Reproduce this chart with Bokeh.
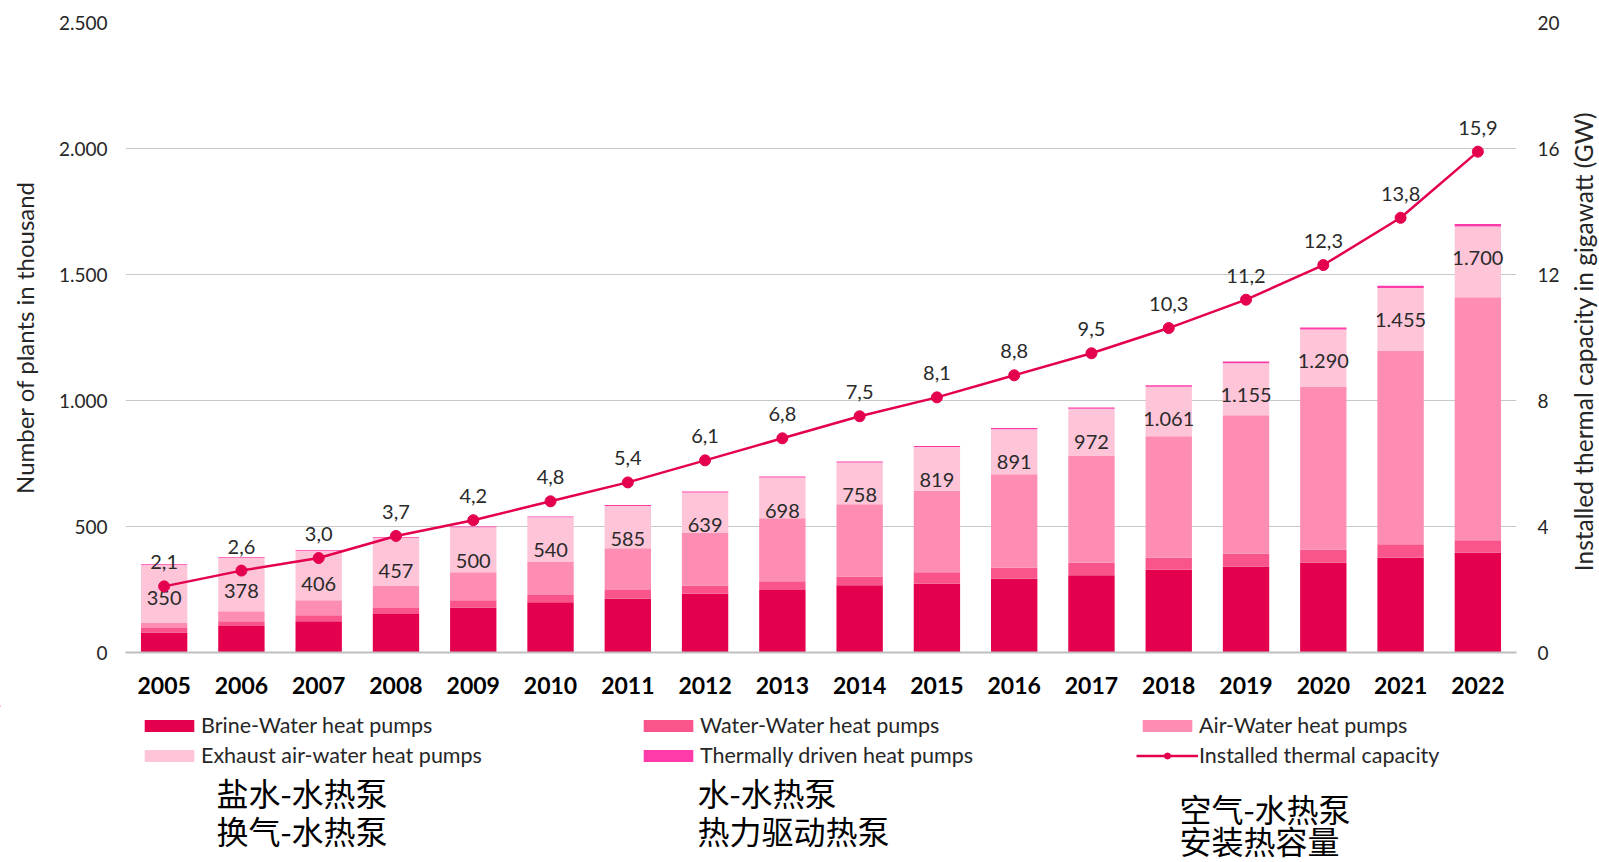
import math
from bokeh.plotting import figure
from bokeh.layouts import column, row
from bokeh.models import (ColumnDataSource, Range1d, LinearAxis, FactorRange, Legend,
                          LegendItem, FixedTicker)
from bokeh.core.properties import value
from bokeh.embed import file_html
from bokeh.resources import INLINE

years = [str(y) for y in range(2005, 2023)]
brine = [79, 105, 124, 153, 179, 199, 213, 233, 248, 267, 273, 293, 307, 328, 341, 356, 376, 396]
water_water = [18, 19, 24, 24, 28, 29, 35, 33, 35, 35, 45, 43, 49, 48, 51, 53, 54, 49]
air_water = [22, 40, 59, 89, 111, 133, 166, 208, 250, 286, 324, 371, 424, 482, 549, 645, 768, 965]
exhaust = [228, 211, 196, 188, 179, 176, 167, 161, 161, 166, 173, 179, 187, 197, 207, 228, 248, 280]
thermal = [3, 3, 3, 3, 3, 3, 4, 4, 4, 4, 4, 5, 5, 6, 7, 8, 9, 10]
capacity = [2.1, 2.6, 3.0, 3.7, 4.2, 4.8, 5.4, 6.1, 6.8, 7.5, 8.1, 8.8, 9.5, 10.3, 11.2, 12.3, 13.8, 15.9]

series_names = ["Brine-Water heat pumps", "Water-Water heat pumps", "Air-Water heat pumps",
                "Exhaust air-water heat pumps", "Thermally driven heat pumps"]
line_name = "Installed thermal capacity"
left_title = "Number of plants in thousand"
right_title = "Installed thermal capacity in gigawatt (GW)"
left_ticks = [0, 500, 1000, 1500, 2000, 2500]
right_ticks = [0, 4, 8, 12, 16, 20]
cn_labels = ["盐水-水热泵", "换气-水热泵", "水-水热泵", "热力驱动热泵", "空气-水热泵", "安装热容量"]

colors = ["#E4004F", "#F9558A", "#FD8DB3", "#FEC5D8", "#FF3AA9"]
line_color = "#E4004F"
FONT = "Lato"
TXT = "#262626"

def de_num(v):
    return f"{v:,}".replace(",", ".")

def no_align(fig):
    if "frame_align" in fig.properties():
        fig.frame_align = False

totals = [a + b + c + d + e for a, b, c, d, e in zip(brine, water_water, air_water, exhaust, thermal)]
keys = ["brine", "ww", "aw", "exh", "th"]
src = ColumnDataSource(dict(
    years=years, brine=brine, ww=water_water, aw=air_water, exh=exhaust, th=thermal,
    total=totals, total_lbl=[de_num(t) for t in totals],
    cap=capacity, cap_lbl=[f"{c:.1f}".replace(".", ",") for c in capacity],
))

W1 = 1562      # main chart width
WR = 37        # right title strip
H1 = 705       # main chart height
H2 = 155       # legend / notes strip
FL, FR, FT, FB = 125, 1516, 22, 652   # frame edges

p = figure(x_range=FactorRange(*years, range_padding=0), y_range=Range1d(0, 2500),
           width=W1, height=H1, output_backend="svg", toolbar_location=None,
           min_border_left=FL, min_border_right=W1 - FR, min_border_top=FT,
           min_border_bottom=H1 - FB)
p.outline_line_color = None
no_align(p)

bars = p.vbar_stack(keys, x="years", width=0.6, source=src, color=colors, line_width=0)

p.text(x="years", y="total", text="total_lbl", source=src, text_align="center",
       text_baseline="middle", y_offset=34, text_font=value(FONT), text_font_size="20px",
       text_color="#2a2a2a")

p.extra_y_ranges = {"gw": Range1d(0, 20)}
p.line(x="years", y="cap", source=src, y_range_name="gw", line_color=line_color, line_width=2.5)
p.scatter(x="years", y="cap", source=src, y_range_name="gw", size=11,
          fill_color=line_color, line_color=line_color)
p.text(x="years", y="cap", text="cap_lbl", source=src, y_range_name="gw", text_align="center",
       text_baseline="middle", y_offset=-24, text_font=value(FONT), text_font_size="20px",
       text_color="#2a2a2a")

p.xaxis.axis_line_color = "#BFBFBF"
p.xaxis.axis_line_width = 2
p.xaxis.major_tick_line_color = None
p.xaxis.minor_tick_line_color = None
p.xaxis.major_tick_out = 0
p.xaxis.major_tick_in = 0
p.xaxis.major_label_text_font = FONT
p.xaxis.major_label_text_font_style = "bold"
p.xaxis.major_label_text_font_size = "23px"
p.xaxis.major_label_text_color = "black"
p.xaxis.major_label_standoff = 24

ya = p.yaxis[0]
ya.ticker = FixedTicker(ticks=left_ticks)
ya.major_label_overrides = {t: de_num(t) for t in left_ticks}
ya.axis_line_color = None
ya.major_tick_line_color = None
ya.minor_tick_line_color = None
ya.major_tick_out = 0
ya.major_tick_in = 0
ya.major_label_text_font = FONT
ya.major_label_text_font_size = "19px"
ya.major_label_text_color = TXT
ya.major_label_standoff = 18
ya.axis_label = left_title
ya.axis_label_text_font = FONT
ya.axis_label_text_font_style = "normal"
ya.axis_label_text_font_size = "24px"
ya.axis_label_text_color = TXT
ya.axis_label_standoff = 17

ra = LinearAxis(y_range_name="gw", ticker=FixedTicker(ticks=right_ticks))
ra.axis_line_color = None
ra.major_tick_line_color = None
ra.minor_tick_line_color = None
ra.major_tick_out = 0
ra.major_tick_in = 0
ra.major_label_text_font = FONT
ra.major_label_text_font_size = "19px"
ra.major_label_text_color = TXT
ra.major_label_standoff = 21
p.add_layout(ra, "right")

p.xgrid.grid_line_color = None
p.ygrid.grid_line_color = "#C8C8C8"
p.ygrid.grid_line_width = 1
p.ygrid.ticker = FixedTicker(ticks=left_ticks)

# ---- right strip: secondary axis title (reads bottom to top)
HR = H1 + H2
r = figure(x_range=Range1d(0, WR), y_range=Range1d(0, HR), width=WR, height=HR,
           output_backend="svg", toolbar_location=None, min_border=0,
           x_axis_location=None, y_axis_location=None)
r.grid.visible = False
r.outline_line_color = None
no_align(r)
r.text(x=[21], y=[HR - (FT + FB) / 2 - 4], text=[right_title], angle=math.pi / 2,
       text_align="center", text_baseline="middle", text_font=value(FONT),
       text_font_size="24.5px", text_color=TXT)

# ---- lower strip: legend + Chinese notes (pixel-like coordinates, y downwards)
q = figure(x_range=Range1d(0, W1), y_range=Range1d(H2, 0), width=W1, height=H2,
           output_backend="svg", toolbar_location=None, min_border=0,
           x_axis_location=None, y_axis_location=None)
q.grid.visible = False
q.outline_line_color = None
no_align(q)

dummy_x = [-500]
lbars = [q.vbar(x=dummy_x, top=[1], width=1, fill_color=c, line_color=None) for c in colors]
lline = q.line(x=[-500, -490], y=[1, 1], line_color=line_color, line_width=2.5)
lsc = q.scatter(x=dummy_x, y=[1], size=11, fill_color=line_color, line_color=line_color)

def make_legend(items, loc):
    lg = Legend(items=items, location=loc, orientation="horizontal",
                glyph_width=62, glyph_height=15, label_standoff=1, label_width=436,
                spacing=0, padding=0, margin=0, label_height=20,
                label_text_font=FONT, label_text_font_size="21.5px", label_text_color=TXT,
                border_line_color=None, background_fill_alpha=0)
    q.add_layout(lg, "center")

row1 = [LegendItem(label=series_names[i], renderers=[lbars[i]]) for i in range(3)]
row2 = [LegendItem(label=series_names[3], renderers=[lbars[3]]),
        LegendItem(label=series_names[4], renderers=[lbars[4]]),
        LegendItem(label=line_name, renderers=[lline, lsc])]
make_legend(row1, (138, H2 - 33))
make_legend(row2, (138, H2 - 63))

cn_x = [216, 216, 697, 697, 1179, 1179]
cn_y = [86, 124, 86, 124, 102, 134]
q.text(x=cn_x, y=cn_y, text=cn_labels, text_font=value("Noto Sans CJK SC"),
       text_font_size="32px", text_color="black", text_baseline="middle", text_align="left")

layout = row(column(p, q, spacing=0), r, spacing=0)
open("out.html", "w").write(file_html(layout, INLINE))
